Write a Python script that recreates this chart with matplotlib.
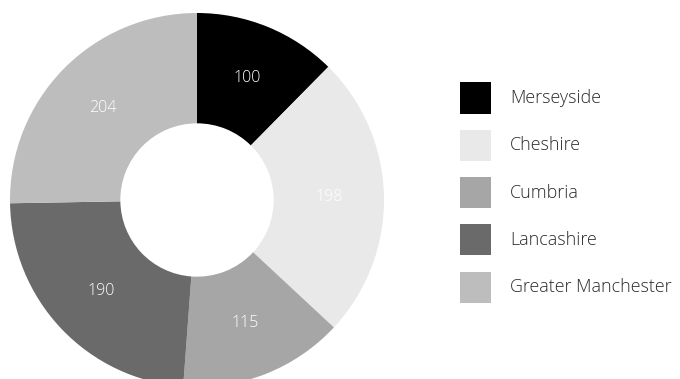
import matplotlib
matplotlib.use("Agg")
import matplotlib.pyplot as plt
from matplotlib.patches import Rectangle

regions = ["Merseyside", "Cheshire", "Cumbria", "Lancashire", "Greater Manchester"]
counts = [100, 198, 115, 190, 204]
colours = ["#000000", "#e9e9e9", "#a6a6a6", "#6a6a6a", "#bdbdbd"]

W, H = 680, 379
fig = plt.figure(figsize=(W / 100, H / 100), dpi=100)
plt.rcParams['font.family'] = ['Open Sans', 'DejaVu Sans']

# donut: centre (197, 200) px from top, radius 187 px
cx, cy, R = 197, 200, 187
ax = fig.add_axes([(cx - R) / W, (H - cy - R) / H, 2 * R / W, 2 * R / H])
wedges, texts = ax.pie(counts, colors=colours, startangle=90, counterclock=False,
                       radius=1, wedgeprops=dict(width=0.59, linewidth=0),
                       labels=[str(c) for c in counts], labeldistance=0.705)
for t in texts:
    t.set_color("white")
    t.set_fontsize(11.5)
    t.set_fontweight("light")
    t.set_ha("center")
    t.set_va("center")
ax.set_xlim(-1, 1)
ax.set_ylim(-1, 1)
ax.set_aspect("equal")
ax.axis("off")
for w in wedges:
    w.set_clip_on(False)

# legend
y0, step = 98, 47.3
for i, (name, col) in enumerate(zip(regions, colours)):
    yc = y0 + i * step
    fig.patches.append(Rectangle((460 / W, (H - yc - 15.5) / H), 31 / W, 31 / H,
                                 transform=fig.transFigure, facecolor=col,
                                 edgecolor="none"))
    fig.text(510 / W, (H - yc) / H, name, fontsize=12.9, fontweight="light",
             color="#2a2a2a", va="center", ha="left")

fig.savefig("out.png", dpi=100)
